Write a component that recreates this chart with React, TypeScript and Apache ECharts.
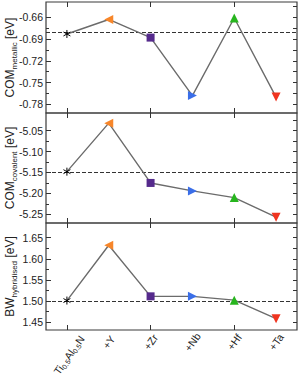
import React, { useEffect, useRef } from 'react';
import * as echarts from 'echarts';

const categories = ['Ti0.5Al0.5N', '+Y', '+Zr', '+Nb', '+Hf', '+Ta'];
const metallic = [-0.683, -0.663, -0.688, -0.768, -0.661, -0.77];
const covalent = [-5.148, -5.032, -5.175, -5.194, -5.21, -5.257];
const hybridised = [1.501, 1.632, 1.511, 1.511, 1.502, 1.458];
const metallicRef = -0.683;
const covalentRef = -5.148;
const hybridisedRef = 1.502;
const metallicTicks = [-0.78, -0.75, -0.72, -0.69, -0.66];
const covalentTicks = [-5.25, -5.2, -5.15, -5.1, -5.05];
const hybridisedTicks = [1.45, 1.5, 1.55, 1.6, 1.65];

const FONT = 'Liberation Sans, Arial, Helvetica, sans-serif';
const ASTERISK = 'path://M5,0L5,10M0.67,2.5L9.33,7.5M0.67,7.5L9.33,2.5';

const markerStyles = [
  { symbol: ASTERISK, size: 8, rotate: 0, color: '#000000', border: 1 },
  { symbol: 'triangle', size: 9, rotate: 90, color: '#f7862a', border: 0 },
  { symbol: 'rect', size: 8, rotate: 0, color: '#552a8c', border: 0 },
  { symbol: 'triangle', size: 9, rotate: -90, color: '#3a6ee8', border: 0 },
  { symbol: 'triangle', size: 9, rotate: 0, color: '#27b51e', border: 0 },
  { symbol: 'triangle', size: 9, rotate: 180, color: '#f0341f', border: 0 },
];

const panels = [
  { values: metallic, ref: metallicRef, ticks: metallicTicks, min: -0.792, max: -0.6389, sub: 'metallic', main: 'COM', top: 2, height: 111 },
  { values: covalent, ref: covalentRef, ticks: covalentTicks, min: -5.2708, max: -5.0077, sub: 'covalent', main: 'COM', top: 113, height: 110 },
  { values: hybridised, ref: hybridisedRef, ticks: hybridisedTicks, min: 1.4312, max: 1.6848, sub: 'hybridised', main: 'BW', top: 223, height: 107 },
];

function halfTicks(ticks: number[], min: number, max: number) {
  const step = (ticks[1] - ticks[0]) / 2;
  const out: number[] = [];
  for (let k = -4; k <= ticks.length * 2 + 4; k++) {
    const v = ticks[0] + step * k;
    if (v >= min - 1e-9 && v <= max + 1e-9) out.push(+v.toFixed(6));
  }
  return out;
}

const labelRich = {
  n: { fontSize: 10.5, fontFamily: FONT, fill: '#222', lineHeight: 11, verticalAlign: 'top' },
  s: { fontSize: 7, fontFamily: FONT, fill: '#222', lineHeight: 7, padding: [5, 0, 0, 0], verticalAlign: 'top' },
};

function labelText(v: string) {
  return v === categories[0] ? '{n|Ti}{s|0.5}{n|Al}{s|0.5}{n|N}' : '{n|' + v + '}';
}

export default function App() {
  const ref = useRef<HTMLDivElement>(null);
  useEffect(() => {
    if (!ref.current) return;
    const chart = echarts.init(ref.current, null, { renderer: 'svg' });
    const grid: any[] = [];
    const xAxis: any[] = [];
    const yAxis: any[] = [];
    const series: any[] = [];
    const tickColor = '#333';
    panels.forEach((p, i) => {
      grid.push({
        left: 46, right: 2, top: p.top, height: p.height, show: true,
        borderColor: '#3a3a3a', borderWidth: 1.2, backgroundColor: 'transparent',
        containLabel: false, outerBoundsMode: 'none',
      });
      xAxis.push({
        type: 'category', gridIndex: i, position: 'bottom', boundaryGap: true, data: categories,
        axisLine: { show: false },
        axisTick: { show: true, inside: true, alignWithLabel: true, length: 5, lineStyle: { color: tickColor } },
        splitLine: { show: false },
        axisLabel: { show: false },
      });
      xAxis.push({
        type: 'category', gridIndex: i, position: 'top', boundaryGap: true, data: categories,
        axisLine: { show: false },
        axisTick: { show: true, inside: true, alignWithLabel: true, length: 5, lineStyle: { color: tickColor } },
        axisLabel: { show: false }, splitLine: { show: false },
      });
      const minors = halfTicks(p.ticks, p.ticks[0], p.ticks[p.ticks.length - 1]).filter((v) => !p.ticks.some((t) => Math.abs(t - v) < 1e-6));
      yAxis.push({
        type: 'value', gridIndex: i, position: 'left', min: p.min, max: p.max, offset: 0,
        axisLine: { show: false }, splitLine: { show: false },
        axisTick: { show: true, inside: true, length: 5, customValues: p.ticks, lineStyle: { color: tickColor } },
        axisLabel: { show: true, customValues: p.ticks, formatter: (v: number) => v.toFixed(2), fontSize: 10.5, fontFamily: FONT, color: '#222', margin: 3 },
        name: '{a|' + p.main + '}{s|' + p.sub + '}{a| [eV]}',
        nameLocation: 'middle', nameGap: 30, nameRotate: 90, nameMoveOverlap: false,
        nameTextStyle: {
          rich: {
            a: { fontSize: 12, fontFamily: FONT, color: '#222', lineHeight: 12, verticalAlign: 'top' },
            s: { fontSize: 8, fontFamily: FONT, color: '#222', lineHeight: 8, padding: [6, 0, 0, 0], verticalAlign: 'top' },
          },
        },
      });
      yAxis.push({
        type: 'value', gridIndex: i, position: 'left', min: p.min, max: p.max, offset: 0,
        axisLine: { show: false }, splitLine: { show: false },
        axisTick: { show: true, inside: true, length: 3, customValues: minors, lineStyle: { color: tickColor } },
        axisLabel: { show: false },
      });
      yAxis.push({
        type: 'value', gridIndex: i, position: 'right', min: p.min, max: p.max, offset: 0,
        axisLine: { show: false }, splitLine: { show: false },
        axisTick: { show: true, inside: true, length: 4, customValues: halfTicks(p.ticks, p.min, p.max), lineStyle: { color: tickColor } },
        axisLabel: { show: false },
      });
      series.push({
        type: 'line', xAxisIndex: i * 2, yAxisIndex: i * 3,
        lineStyle: { color: '#6b6b6b', width: 1.4 },
        data: p.values.map((v, k) => ({
          value: v,
          symbol: markerStyles[k].symbol,
          symbolSize: markerStyles[k].size,
          symbolRotate: markerStyles[k].rotate,
          symbolKeepAspect: true,
          itemStyle: { color: markerStyles[k].color, borderColor: markerStyles[k].color, borderWidth: markerStyles[k].border, opacity: 1 },
        })),
        showSymbol: true, symbolKeepAspect: true, z: 3,
        markLine: {
          silent: true, symbol: ['none', 'none'], label: { show: false },
          lineStyle: { type: [4, 2], color: '#333', width: 1 },
          data: [{ yAxis: p.ref }],
          z: 2,
        },
      });
    });
    chart.setOption({ animation: false, grid, xAxis, yAxis, series });

    // rotated category labels under the last panel, anchored at their centre
    const last = panels.length - 1;
    const rot = (55 * Math.PI) / 180;
    const texts = categories.map((c, k) => {
      const pt = chart.convertToPixel({ xAxisIndex: last * 2, yAxisIndex: last * 3 } as any, [c, panels[last].min]) as number[];
      const gap = k === 0 ? 25 : 12;
      return {
        type: 'text', x: pt[0] + (k === 0 ? 2 : 0), y: pt[1] + gap, rotation: rot,
        style: { text: labelText(c), rich: labelRich, align: 'center', verticalAlign: 'middle', fontFamily: FONT, fontSize: 10.5, fill: '#222' },
      };
    });
    chart.setOption({ graphic: texts });
    return () => chart.dispose();
  }, []);
  return <div ref={ref} style={{ position: 'absolute', left: 0, top: 0, width: 299, height: 381 }} />;
}
